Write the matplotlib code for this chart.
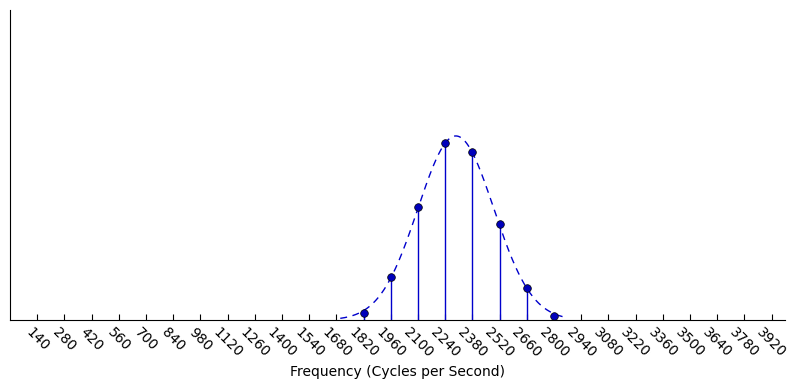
import numpy as np
import matplotlib
matplotlib.use('Agg')
import matplotlib.pyplot as plt

# data
freq = [1820, 1960, 2100, 2240, 2380, 2520, 2660, 2800]
prob = [0.022, 0.138, 0.364, 0.570, 0.541, 0.309, 0.102, 0.013]

# fitted normal curve (dashed)
fit_mean = 2295
fit_sigma = 195
fit_peak = 0.594
fit_range = (1700, 2870)

xticks = list(range(140, 4000, 140))

fig = plt.figure(figsize=(7.95, 3.88), dpi=100)
ax = fig.add_axes([0.0126, 0.175, 0.975, 0.799])

xs = np.linspace(fit_range[0], fit_range[1], 400)
ax.plot(xs, fit_peak * np.exp(-(xs - fit_mean) ** 2 / (2 * fit_sigma ** 2)),
        color='#0000cc', linestyle='--', dashes=(5, 4), linewidth=1)

ax.vlines(freq, 0, prob, color='#0000cc', linewidth=1)
ax.plot(freq, prob, 'o', color='#0000bb', markeredgecolor='black',
        markeredgewidth=0.5, markersize=5.5)

ax.set_xlim(0, 3990)
ax.set_ylim(0, 1)
ax.set_xticks(xticks)
ax.set_xticklabels([str(t) for t in xticks], rotation=-45, fontsize=10)
ax.set_yticks([])
ax.tick_params(axis='x', direction='in', length=4, top=False)

for spine in ['top', 'right']:
    ax.spines[spine].set_visible(False)

ax.set_xlabel('Frequency (Cycles per Second)', fontsize=10)

fig.savefig('out.png', dpi=100)
